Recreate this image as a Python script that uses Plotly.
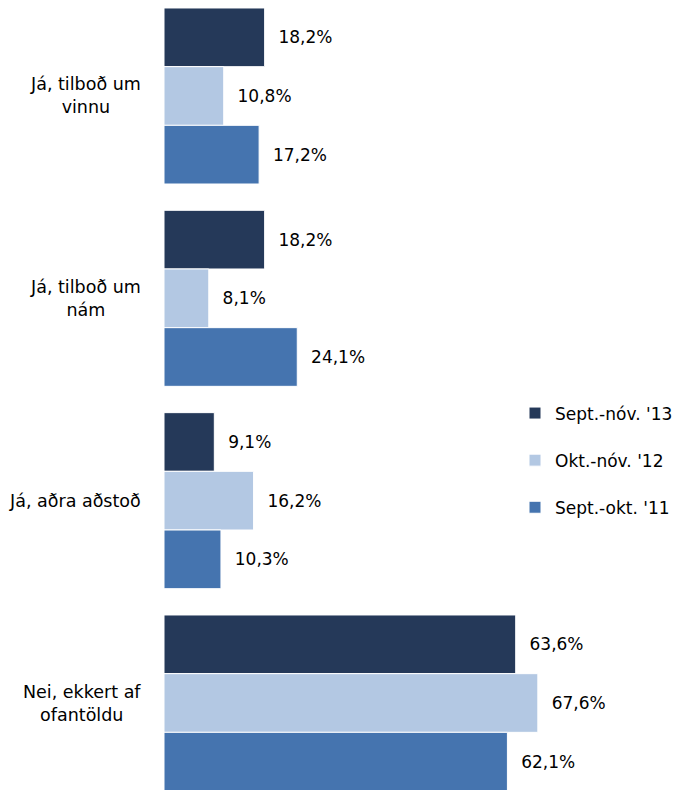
import plotly.graph_objects as go

categories = ["Já, tilboð um vinnu", "Já, tilboð um nám", "Já, aðra aðstoð", "Nei, ekkert af ofantöldu"]
category_labels = ["Já, tilboð um<br>vinnu", "Já, tilboð um<br>nám", "Já, aðra aðstoð", "Nei, ekkert af<br>ofantöldu"]
series_names = ["Sept.-nóv. '13", "Okt.-nóv. '12", "Sept.-okt. '11"]
sept_nov_13 = [18.2, 18.2, 9.1, 63.6]
okt_nov_12 = [10.8, 8.1, 16.2, 67.6]
sept_okt_11 = [17.2, 24.1, 10.3, 62.1]
colors = ["#253959", "#B3C8E3", "#4574AF"]

FONT = "DejaVu Sans"
W, H = 681, 782          # page body has an 8px margin
L = 156
PX_PER_PCT = 5.53

def fmt(v):
    return "\u00a0\u00a0" + f"{v:.1f}".replace(".", ",") + "%"

fig = go.Figure()
for name, vals, col in zip(series_names, [sept_nov_13, okt_nov_12, sept_okt_11], colors):
    fig.add_trace(go.Bar(
        y=categories, x=vals, orientation="h", name=name,
        marker=dict(color=col, line=dict(color="white", width=1)),
        text=[fmt(v) for v in vals], textposition="outside",
        textfont=dict(family=FONT, size=17, color="#000000"),
        constraintext="none", cliponaxis=False,
        legendgroup=name, hoverinfo="skip",
    ))

for cat, lab in zip(categories, category_labels):
    fig.add_annotation(x=0, xref="paper", y=cat, yref="y", text=lab,
                       showarrow=False, xanchor="right", xshift=-21, align="center",
                       font=dict(family=FONT, size=17.5, color="#000000"))

plot_w = W - L
fig.update_layout(
    width=W, height=H,
    margin=dict(l=L, r=0, t=0, b=0),
    paper_bgcolor="white", plot_bgcolor="white",
    barmode="group", bargap=0.13, bargroupgap=0,
    showlegend=True,
    legend=dict(x=(507 - L) / plot_w, xanchor="left", y=1 - 387.5 / H, yanchor="top",
                traceorder="grouped", tracegroupgap=22,
                font=dict(family=FONT, size=17, color="#000000"),
                bgcolor="rgba(0,0,0,0)"),
    xaxis=dict(range=[0, plot_w / PX_PER_PCT], visible=False, fixedrange=True),
    yaxis=dict(type="category", categoryorder="array", categoryarray=categories,
               range=[3.430, -0.4349], showticklabels=False, showgrid=False,
               zeroline=False, showline=False, ticks=""),
)

fig.write_html("out.html")
